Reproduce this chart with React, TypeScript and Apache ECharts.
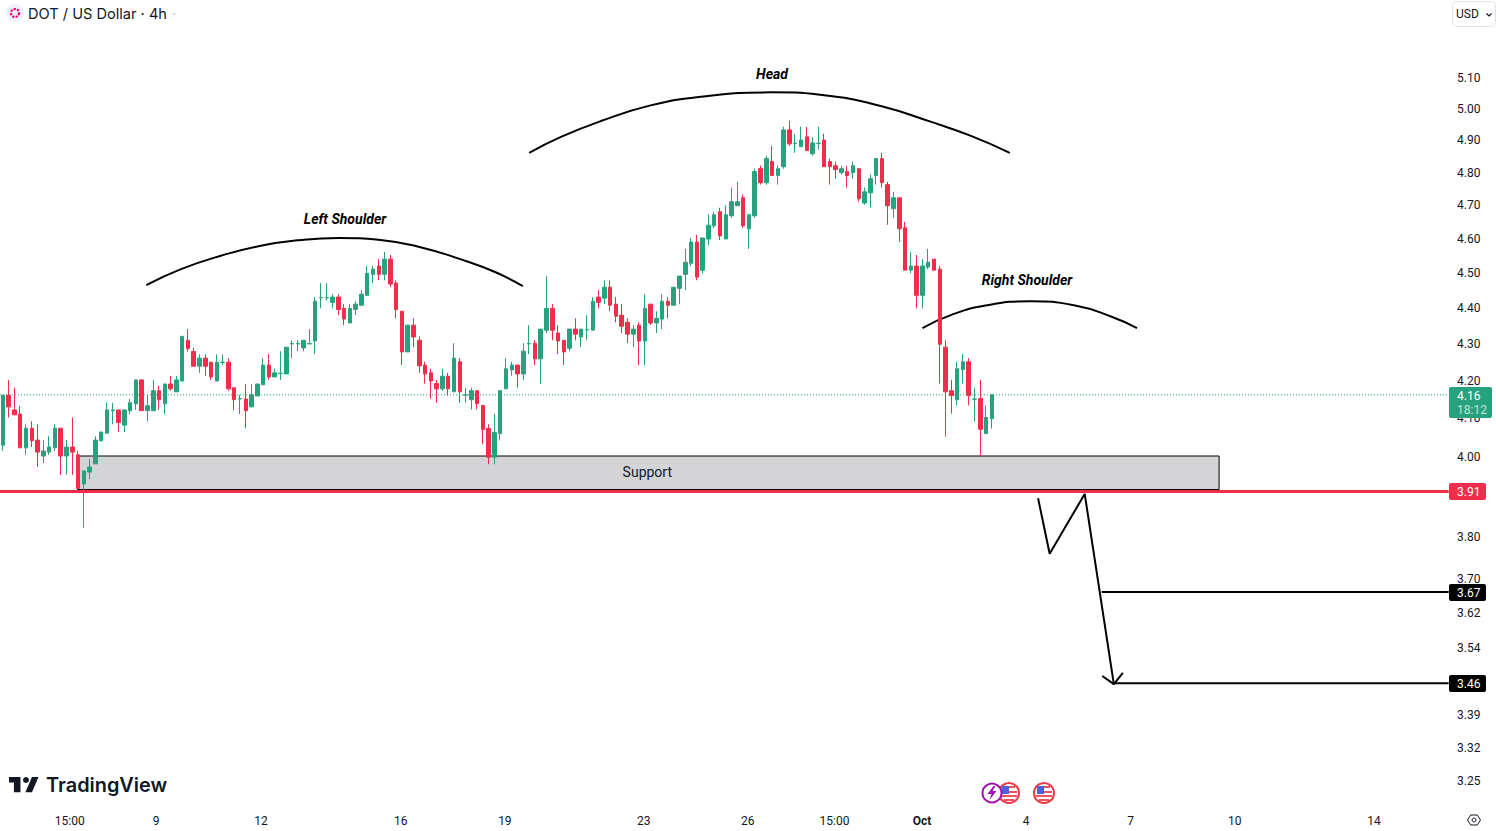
import React, { useEffect, useRef } from "react";
import * as echarts from "echarts";

// each candle row: [open, close, low, high]
const barsRiseToLeft = [
  [4.028,4.159,4.013,4.159],[4.159,4.128,4.10,4.20],[4.12,4.107,4.107,4.179],[4.109,4.021,4.021,4.131],[4.021,4.072,4.003,4.082],
  [4.072,4.039,4.023,4.09],[4.041,4.01,3.972,4.082],[4.0,4.013,3.982,4.041],[4.01,4.023,4.003,4.051],[4.021,4.072,4.013,4.082],
  [4.072,4.0,3.952,4.072],[4.0,4.023,3.952,4.041],[4.023,4.01,3.952,4.10],[4.003,3.918,3.918,4.013],[3.929,3.962,3.82,3.962],
  [3.959,3.972,3.941,3.993],[3.98,4.041,3.98,4.051],[4.039,4.062,4.039,4.062],[4.059,4.12,4.059,4.139],[4.118,4.12,4.082,4.139],
  [4.12,4.087,4.062,4.12],[4.08,4.12,4.062,4.12],[4.118,4.139,4.109,4.149],[4.136,4.20,4.12,4.20],[4.20,4.118,4.118,4.20],
  [4.118,4.131,4.09,4.16],[4.118,4.171,4.118,4.20],[4.171,4.147,4.12,4.184],[4.136,4.189,4.109,4.189],[4.189,4.176,4.171,4.211],
  [4.168,4.20,4.168,4.211],[4.197,4.319,4.197,4.319],[4.308,4.285,4.277,4.339],[4.277,4.237,4.237,4.288],[4.237,4.259,4.219,4.269],
  [4.259,4.237,4.211,4.269],[4.248,4.208,4.20,4.248],[4.197,4.248,4.197,4.269],[4.247,4.248,4.24,4.269],[4.248,4.176,4.171,4.259],
  [4.179,4.147,4.12,4.179],[4.149,4.15,4.109,4.16],[4.149,4.118,4.072,4.189],[4.128,4.16,4.128,4.189],[4.157,4.189,4.157,4.189],
];
const barsLeftShoulder = [
  [4.187,4.24,4.187,4.259],[4.24,4.208,4.20,4.27],[4.208,4.219,4.208,4.23],[4.217,4.218,4.20,4.278],[4.216,4.289,4.216,4.289],
  [4.298,4.299,4.259,4.308],[4.298,4.299,4.278,4.308],[4.287,4.308,4.278,4.308],[4.298,4.299,4.297,4.339],[4.306,4.417,4.27,4.429],
  [4.427,4.428,4.397,4.469],[4.427,4.428,4.419,4.469],[4.414,4.429,4.397,4.437],[4.429,4.394,4.378,4.437],[4.397,4.367,4.35,4.409],
  [4.356,4.397,4.356,4.409],[4.394,4.409,4.378,4.417],[4.406,4.437,4.406,4.449],[4.434,4.497,4.434,4.518],[4.494,4.509,4.469,4.518],
  [4.518,4.494,4.477,4.538],[4.494,4.538,4.477,4.559],[4.538,4.466,4.457,4.55],[4.469,4.394,4.369,4.477],[4.389,4.276,4.24,4.389],
  [4.276,4.35,4.276,4.35],[4.35,4.317,4.289,4.369],[4.308,4.238,4.219,4.319],[4.24,4.216,4.19,4.249],[4.219,4.197,4.15,4.23],
  [4.19,4.176,4.139,4.20],[4.176,4.21,4.171,4.23],[4.21,4.176,4.158,4.219],[4.168,4.259,4.168,4.30],[4.249,4.168,4.139,4.259],
  [4.159,4.16,4.139,4.179],[4.147,4.171,4.121,4.179],[4.171,4.137,4.121,4.171],[4.132,4.069,4.03,4.132],[4.071,3.997,3.979,4.082],
  [3.997,4.061,3.979,4.11],[4.058,4.171,4.04,4.171],[4.176,4.23,4.176,4.259],
];
const barsRiseToHead = [
  [4.227,4.24,4.211,4.249],[4.24,4.216,4.179,4.24],[4.216,4.278,4.20,4.30],[4.298,4.299,4.27,4.35],[4.30,4.257,4.24,4.308],
  [4.257,4.339,4.189,4.339],[4.336,4.397,4.328,4.489],[4.397,4.336,4.308,4.409],[4.328,4.306,4.27,4.35],[4.308,4.276,4.24,4.308],
  [4.286,4.339,4.278,4.339],[4.339,4.325,4.308,4.369],[4.317,4.339,4.289,4.339],[4.337,4.338,4.308,4.378],[4.336,4.417,4.336,4.429],
  [4.429,4.414,4.397,4.449],[4.426,4.457,4.409,4.477],[4.457,4.406,4.389,4.477],[4.409,4.375,4.358,4.429],[4.378,4.347,4.328,4.409],
  [4.358,4.325,4.30,4.369],[4.325,4.339,4.289,4.35],[4.35,4.306,4.24,4.358],[4.306,4.397,4.24,4.437],[4.409,4.356,4.35,4.409],
  [4.356,4.369,4.328,4.389],[4.367,4.417,4.339,4.437],[4.417,4.406,4.369,4.429],[4.406,4.457,4.406,4.457],[4.454,4.489,4.409,4.489],
  [4.494,4.529,4.449,4.568],[4.526,4.588,4.518,4.60],[4.588,4.486,4.477,4.609],[4.506,4.60,4.497,4.60],[4.597,4.638,4.579,4.67],
  [4.636,4.669,4.63,4.678],[4.678,4.606,4.594,4.69],[4.597,4.669,4.597,4.698],[4.666,4.708,4.66,4.751],[4.696,4.708,4.696,4.769],
  [4.72,4.636,4.63,4.73],[4.627,4.669,4.568,4.669],
];
const barsHead = [
  [4.666,4.80,4.66,4.809],[4.809,4.766,4.76,4.818],[4.766,4.84,4.76,4.849],[4.831,4.788,4.788,4.88],[4.788,4.809,4.76,4.818],
  [4.815,4.93,4.809,4.94],[4.93,4.886,4.88,4.959],[4.887,4.888,4.858,4.918],[4.877,4.898,4.877,4.94],[4.908,4.865,4.865,4.94],
  [4.855,4.889,4.849,4.908],[4.887,4.888,4.868,4.94],[4.898,4.815,4.815,4.918],[4.831,4.815,4.76,4.84],[4.818,4.806,4.778,4.831],
  [4.797,4.809,4.791,4.818],[4.80,4.788,4.751,4.818],[4.797,4.818,4.778,4.831],[4.809,4.717,4.708,4.809],[4.704,4.738,4.699,4.751],
  [4.735,4.778,4.69,4.791],[4.788,4.84,4.76,4.84],[4.84,4.766,4.751,4.858],[4.76,4.696,4.639,4.769],[4.687,4.72,4.66,4.738],
  [4.72,4.627,4.588,4.72],[4.63,4.506,4.506,4.648],
];
const barsRightShoulder = [
  [4.506,4.518,4.497,4.559],[4.518,4.434,4.397,4.55],[4.434,4.518,4.397,4.538],[4.515,4.529,4.509,4.568],[4.538,4.506,4.506,4.538],
  [4.509,4.297,4.19,4.518],[4.289,4.168,4.05,4.308],[4.171,4.158,4.11,4.20],[4.147,4.23,4.132,4.249],[4.228,4.249,4.19,4.27],
  [4.249,4.158,4.132,4.259],[4.148,4.149,4.09,4.179],[4.15,4.069,4.00,4.20],[4.058,4.10,4.058,4.132],[4.097,4.16,4.071,4.16],
];

const yTicks = [5.1,5.0,4.9,4.8,4.7,4.6,4.5,4.4,4.3,4.2,4.1,4.0,3.8,3.7,3.62,3.54,3.39,3.32,3.25];
const xTickValues = [11.55,26.5,44.63,68.8,86.8,110.8,128.8,143.8,158.95,176.95,195,213,237.1];
const xTickLabels = ["15:00","9","12","16","19","23","26","15:00","Oct","4","7","10","14"];

// drawings, as [bar index, price]
const leftArc = [[24.8,4.463],[30.8,4.509],[37.7,4.548],[44.6,4.577],[51.5,4.594],[58.1,4.60],[65.3,4.594],[72.2,4.573],[79.1,4.538],[85.2,4.50],[89.9,4.46]];
const headArc = [[91,4.858],[96.5,4.908],[103.4,4.958],[112,5.008],[120.7,5.036],[132.8,5.05],[143.1,5.038],[151.8,5.006],[160.4,4.956],[167.4,4.911],[174.1,4.858]];
const rightArc = [[159,4.342],[163.9,4.378],[169.9,4.405],[177.7,4.417],[185.4,4.405],[191.5,4.375],[196.1,4.342]];
const zigzag = [[179,3.893],[181,3.757],[187.06,3.904],[192.1,3.456]];
const arrowHead = [[190.1,3.474],[192.1,3.456],[193.66,3.481]];
const currentPrice = 4.16;
const breakdownPrice = 3.91;
const target1 = [[190,3.666],[250,3.666]];
const target2 = [[192.1,3.458],[250,3.458]];
const supportZone = { top: 4.0, bottom: 3.915, from: 12.9, to: 210.3 };

const UP = "#27a27f";
const DOWN = "#f02e4b";
const INK = "#131722";
const FONT = "Roboto, sans-serif";
const SLOTS = 251;

echarts.graphic.registerShape(
  "tvMark",
  echarts.graphic.extendPath("M14 0H0v8h6v14h8V0Z M28 0h8l-8 22h-8l8-22Z", {}) as any
);
echarts.graphic.registerShape(
  "bolt",
  echarts.graphic.extendPath("M6 0L0 8h4L2 14L9 5H5L8 0Z", {}) as any
);

function flag(cx: number, cy: number) {
  return {
    type: "group", x: cx, y: cy, z: 50,
    children: [
      { type: "circle", shape: { cx: 0, cy: 0, r: 10 }, style: { fill: "#fff", stroke: "#f23645", lineWidth: 2 } },
      { type: "rect", shape: { x: 0, y: -7, width: 6, height: 2 }, style: { fill: "#f0505f" } },
      { type: "rect", shape: { x: 0, y: -2, width: 8, height: 2 }, style: { fill: "#f0505f" } },
      { type: "rect", shape: { x: -8, y: 2, width: 16, height: 2 }, style: { fill: "#f0505f" } },
      { type: "rect", shape: { x: -5, y: 6, width: 10, height: 2 }, style: { fill: "#f0505f" } },
      { type: "rect", shape: { x: -7, y: -7, width: 7, height: 8 }, style: { fill: "#4a63d8" } },
    ],
  };
}

function label(text: string, x: number, y: number, fill = INK, font = `12px ${FONT}`, align = "left") {
  return { type: "text", x, y, z: 60, style: { text, fill, font, textAlign: align, textVerticalAlign: "middle" } };
}

function priceBox(y0: number, h: number, w: number, fill: string) {
  return { type: "rect", z: 55, shape: { x: 1449, y: y0, width: w, height: h, r: 2 }, style: { fill } };
}

export default function App() {
  const ref = useRef<HTMLDivElement>(null);
  useEffect(() => {
    document.body.style.margin = "0";
    const chart = echarts.init(ref.current!, undefined, { renderer: "svg" });
    const candles = [...barsRiseToLeft, ...barsLeftShoulder, ...barsRiseToHead, ...barsHead, ...barsRightShoulder];
    const drawing = (data: number[][], z: number, extra: any = {}) => ({
      type: "line", xAxisIndex: 1, yAxisIndex: 0, data, z, showSymbol: false, symbol: "none", silent: true,
      lineStyle: { color: "#000", width: 2 }, ...extra,
    });
    chart.setOption({
      animation: false,
      backgroundColor: "#fff",
      grid: { left: -1.7, width: SLOTS * 5.79, top: 0, height: 800 },
      xAxis: [
        { type: "category", data: Array.from({ length: SLOTS }, (_, i) => String(i)), show: false },
        {
          type: "value", min: -0.5, max: SLOTS - 0.5, position: "bottom",
          axisLine: { show: false }, axisTick: { show: false }, splitLine: { show: false },
          axisLabel: {
            show: true, customValues: xTickValues, margin: 15, hideOverlap: false,
            color: INK, fontFamily: FONT, fontSize: 12,
            formatter: (v: number) => {
              const t = xTickLabels[xTickValues.indexOf(v)] ?? "";
              return t === "Oct" ? `{b|${t}}` : t;
            },
            rich: { b: { fontWeight: "bold", fontFamily: FONT, fontSize: 12, color: INK } },
          },
        },
      ],
      yAxis: {
        type: "log", logBase: Math.E, position: "right", min: 3.2085, max: 5.358,
        axisLine: { show: false }, axisTick: { show: false }, splitLine: { show: false },
        axisLabel: {
          show: true, customValues: yTicks, margin: 5.4, color: INK, fontFamily: FONT, fontSize: 12,
          hideOverlap: false, showMinLabel: true, showMaxLabel: true,
          formatter: (v: number) => `{p|${Number(v).toFixed(2)}}`,
          rich: { p: { padding: [2, 0, 0, 0], color: INK, fontFamily: FONT, fontSize: 12 } },
        },
      },
      series: [
        drawing([], 1, {
          markArea: {
            silent: true, z: 1,
            itemStyle: { color: "#d4d4d6", borderColor: "#000", borderWidth: 1 },
            label: { show: true, position: "inside", offset: [-1, -1], color: INK, fontFamily: FONT, fontSize: 14 },
            data: [[
              { name: "Support", coord: [supportZone.from, supportZone.top] },
              { coord: [supportZone.to, supportZone.bottom] },
            ]],
          },
        }),
        drawing([[-0.5, currentPrice], [250, currentPrice]], 1, { lineStyle: { color: UP, width: 1, type: [1, 2], cap: "butt" } }),
        drawing(leftArc, 2, { smooth: 0.5 }),
        drawing(headArc, 2, { smooth: 0.5 }),
        drawing(rightArc, 2, { smooth: 0.5 }),
        {
          type: "candlestick", xAxisIndex: 0, yAxisIndex: 0, z: 3, data: candles, barWidth: 4, silent: true,
          itemStyle: { color: UP, color0: DOWN, borderColor: UP, borderColor0: DOWN, borderWidth: 1 },
        },
        drawing(zigzag, 4),
        drawing(arrowHead, 4),
        drawing(target1, 4),
        drawing(target2, 4),
        drawing([[-0.5, breakdownPrice], [250, breakdownPrice]], 4, { lineStyle: { color: DOWN, width: 3 } }),
      ],
      graphic: [
        { type: "circle", z: 50, shape: { cx: 15, cy: 13, r: 9 }, style: { fill: "#f0f1f8" } },
        { type: "circle", z: 51, shape: { cx: 15, cy: 13, r: 4 }, style: { fill: "none", stroke: "#e6007a", lineWidth: 2.2, lineDash: [2.2, 1.2] } },
        label("DOT / US Dollar · 4h", 28, 13.5, INK, `14.6px Inter, ${FONT}`),
        label("·", 172, 13.5, "#c4c6ce", `14.6px Inter, ${FONT}`),
        { type: "rect", z: 50, shape: { x: 1452.5, y: 1.5, width: 43, height: 25, r: 4 }, style: { fill: "#fff", stroke: "#e0e3eb", lineWidth: 1 } },
        label("USD", 1456, 14, INK, `12px ${FONT}`),
        { type: "polyline", z: 60, shape: { points: [[1486.5, 13.5], [1489, 16], [1491.5, 13.5]] }, style: { fill: "none", stroke: INK, lineWidth: 1.2 } },
        label("Left Shoulder", 345, 219, "#000", `italic bold 14px ${FONT}`, "center"),
        label("Head", 772, 74, "#000", `italic bold 14px ${FONT}`, "center"),
        label("Right Shoulder", 1027, 280, "#000", `italic bold 14px ${FONT}`, "center"),
        priceBox(387, 31, 43, UP),
        label("4.16", 1457, 396, "#fff"),
        label("18:12", 1457, 410, "#bfe8d8"),
        priceBox(483, 17, 37, DOWN),
        label("3.91", 1457, 492, "#fff"),
        priceBox(584, 17, 37, "#000"),
        label("3.67", 1457, 593, "#fff"),
        priceBox(675, 17, 37, "#000"),
        label("3.46", 1457, 684, "#fff"),
        { type: "tvMark", x: 9, y: 777, scaleX: 0.82, scaleY: 0.69, z: 50, style: { fill: INK } },
        { type: "circle", z: 50, shape: { cx: 26, cy: 780, r: 3 }, style: { fill: INK } },
        label("TradingView", 46, 785, INK, `600 19.9px Inter, ${FONT}`),
        { type: "circle", z: 50, shape: { cx: 992, cy: 793, r: 9.5 }, style: { fill: "#fff", stroke: "#a00fb0", lineWidth: 2 } },
        { type: "bolt", x: 987.5, y: 786, z: 51, style: { fill: "#a00fb0" } },
        flag(1009, 793),
        flag(1044, 793),
        {
          type: "group", x: 1474, y: 820, z: 50,
          children: [
            { type: "polygon", shape: { points: [[-6.5, 0], [-3.3, -5], [3.3, -5], [6.5, 0], [3.3, 5], [-3.3, 5]] }, style: { fill: "none", stroke: INK, lineWidth: 1 } },
            { type: "circle", shape: { cx: 0, cy: 0, r: 2 }, style: { fill: "none", stroke: INK, lineWidth: 1 } },
          ],
        },
      ],
    });
    return () => chart.dispose();
  }, []);
  return <div ref={ref} style={{ position: "absolute", left: 0, top: 0, width: 1496, height: 831 }} />;
}
